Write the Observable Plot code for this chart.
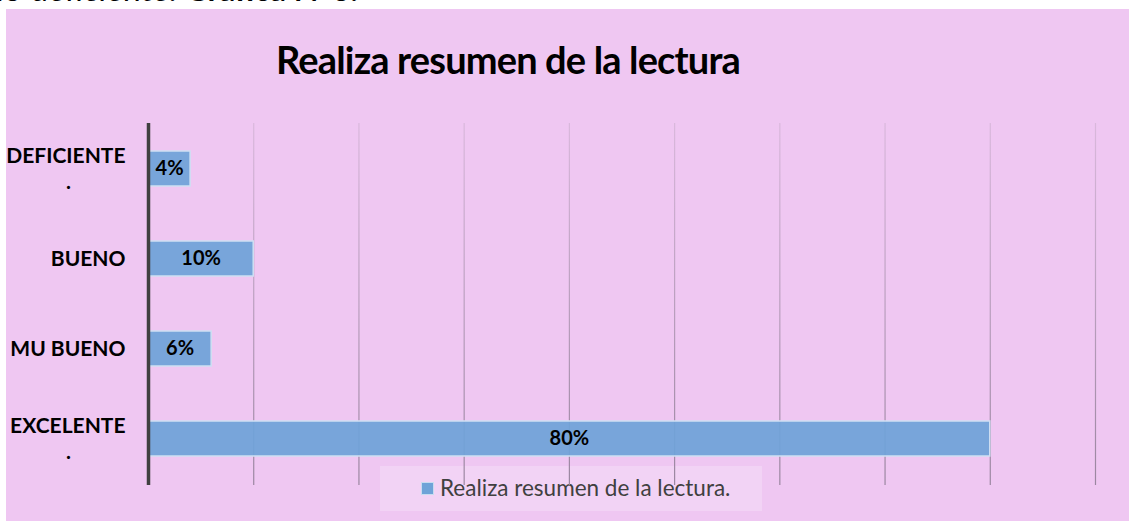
<!DOCTYPE html>
<html>
<head>
<meta charset="utf-8">
<script src="https://cdn.jsdelivr.net/npm/d3@7"></script>
<script src="https://cdn.jsdelivr.net/npm/@observablehq/plot@0.6"></script>
<style>
  html, body { margin: 0; padding: 0; background: #ffffff; }
  #page { position: relative; width: 1129px; height: 521px; overflow: hidden; font-family: Lato, "Open Sans", sans-serif; }
  #above { position: absolute; left: -4px; top: -26px; font-size: 32px; line-height: 30px; color: #000; white-space: nowrap; font-family: Lato, sans-serif; }
  #panel { position: absolute; left: 6px; top: 9px; right: 0; bottom: 0; background: #efc7f2; }
  #title { position: absolute; left: 0; width: 1016px; top: 35px; text-align: center; font-size: 38px; letter-spacing: -0.85px; line-height: 48px; font-weight: bold; color: #000; z-index: 3; }
  #legend { position: absolute; left: 380px; top: 466px; width: 382px; height: 45px; background: rgba(255,255,255,0.22); z-index: 1; }
  #legend .sw { position: absolute; left: 41px; top: 16px; width: 11px; height: 11px; background: #6fa3d8; border: 1px solid #c9dcf0; }
  #legend .lt { position: absolute; left: 60px; top: 8px; font-size: 22.5px; line-height: 28px; color: #404040; white-space: nowrap; }
  #chart { position: absolute; left: 0; top: 0; z-index: 2; }
</style>
</head>
<body>
<div id="page">
  <div id="above">lo deficiente. <b>Gráfica N°6.</b></div>
  <div id="panel"></div>
  <div id="title">Realiza resumen de la lectura</div>
  <div id="legend"><div class="sw"></div><div class="lt">Realiza resumen de la lectura.</div></div>
  <div id="chart"></div>
</div>
<script>
const categories = ["DEFICIENTE .", "BUENO", "MU BUENO", "EXCELENTE ."];
const values = [4, 10, 6, 80];
const valueLabels = ["4%", "10%", "6%", "80%"];
const gridTicks = [10, 20, 30, 40, 50, 60, 70, 80, 90];

const data = categories.map((c, i) => ({cat: c, value: values[i], label: valueLabels[i]}));
const twoLine = categories.filter(c => c.endsWith(" ."));
const oneLine = categories.filter(c => !c.endsWith(" ."));
const word = c => c.replace(" .", "");

const defs = () => {
  const g = d3.create("svg:defs");
  const lg = g.append("linearGradient").attr("id", "gridGrad").attr("gradientUnits", "userSpaceOnUse")
    .attr("x1", 0).attr("x2", 0).attr("y1", 123).attr("y2", 485);
  lg.append("stop").attr("offset", "0%").attr("stop-color", "#d9b8dc");
  lg.append("stop").attr("offset", "100%").attr("stop-color", "#9a86a0");
  return g.node();
};

const chart = Plot.plot({
  width: 1129,
  height: 521,
  marginLeft: 148,
  marginRight: 34,
  marginTop: 123,
  marginBottom: 36,
  style: {background: "transparent", fontFamily: "Lato, 'Open Sans', sans-serif", overflow: "visible"},
  x: {domain: [0, 90], axis: null},
  y: {domain: categories, axis: null, paddingInner: 0.61, paddingOuter: 0.305, align: 0.5},
  marks: [
    defs,
    Plot.ruleX(gridTicks, {stroke: "url(#gridGrad)", strokeWidth: 1.2}),
    Plot.barX(data, {x: "value", y: "cat", fill: "#6fa3d8", fillOpacity: 0.93, stroke: "#cfe0f3", strokeWidth: 1.5}),
    Plot.ruleX([0], {stroke: "#404040", strokeWidth: 3.5}),
    Plot.text(data, {x: d => d.value / 2, y: "cat", text: "label", fontWeight: "bold", fontSize: 20, fill: "#000"}),
    Plot.text(oneLine, {x: 0, y: d => d, text: word, dx: -23, textAnchor: "end", fontWeight: "bold", fontSize: 21, fill: "#000"}),
    Plot.text(twoLine, {x: 0, y: d => d, text: word, dx: -23, dy: -13, textAnchor: "end", fontWeight: "bold", fontSize: 21, fill: "#000"}),
    Plot.text(twoLine, {x: 0, y: d => d, text: () => ".", dx: -80, dy: 13, fontWeight: "bold", fontSize: 21, fill: "#000"})
  ]
});
document.getElementById("chart").appendChild(chart);
</script>
</body>
</html>
